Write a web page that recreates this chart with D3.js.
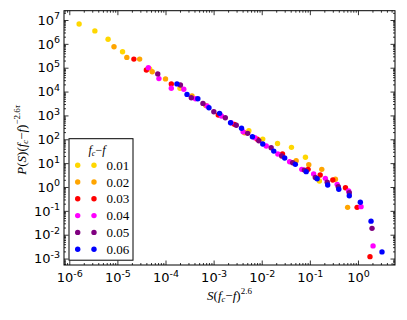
<!DOCTYPE html>
<html>
<head>
<meta charset="utf-8">
<script src="https://cdn.jsdelivr.net/npm/d3@7/dist/d3.min.js"></script>
<style>
  body { margin: 0; background: #fff; }
  .axis path { display: none; }
  .axis line { stroke: #000; stroke-width: 0.8; }
  .tlab { font-family: "DejaVu Sans", sans-serif; font-size: 13px; fill: #000; }
  .math { font-family: "Liberation Serif", "DejaVu Serif", serif; fill: #000; }
</style>
</head>
<body>
<svg id="chart" width="407" height="320"></svg>
<script>
// series labels (f_c - f) and colours
var series = ["0.01", "0.02", "0.03", "0.04", "0.05", "0.06"];
var colors = ["#ffd700", "#ffa500", "#ff0000", "#ff00ff", "#800080", "#0000ff"];

// S (f_c - f)^2.6 and P(S)(f_c - f)^(-2.6 tau)
var s001x = [1.6e-6, 3.4e-6, 6.4e-6, 1.28e-5, 4.7e-5, 2.0e-4, 5.4e-3, 1.05e-2, 2.13e-2, 4.15e-2, 8.1e-2, 0.158];
var s001y = [6.8e6, 3.5e6, 1.55e6, 4.7e5, 8.9e4, 1.37e4, 229, 102, 67, 46, 17.7, 1.78];

var s002x = [8.5e-6, 1.57e-5, 2.9e-5, 5.3e-5, 1.0e-4, 3.55e-4, 6.8e-4, 4.4e-3, 5.2e-2, 9.5e-2, 0.177, 0.34, 0.61];
var s002y = [7.6e5, 2.7e5, 2.3e5, 6.8e4, 3.4e4, 6.5e3, 2.65e3, 188, 12.6, 8.6, 5.5, 2.1, 0.14];

var s003x = [2.2e-5, 4.0e-5, 1.32e-4, 1.25e-3, 2.7e-3, 8.1e-3, 2.7e-2, 9.2e-2, 0.164, 0.30, 0.55, 0.96, 1.78];
var s003y = [2.3e5, 8.0e4, 2.1e4, 1.04e3, 423, 100, 24, 5.5, 3.2, 1.95, 0.93, 0.14, 1.2e-3];

var s004x = [4.4e-5, 7.3e-5, 1.32e-4, 2.4e-4, 4.2e-4, 7.3e-4, 1.45e-3, 2.3e-3, 4.1e-3, 7.2e-3, 1.24e-2, 2.16e-2, 3.8e-2, 6.8e-2, 0.12, 0.21, 0.37, 0.64, 1.16, 2.06];
var s004y = [1.0e5, 3.5e4, 1.37e4, 1.25e4, 5.0e3, 2.5e3, 950, 494, 208, 116, 52, 24, 11.4, 5.5, 3.5, 2.3, 1.29, 0.68, 0.15, 3.4e-3];

var s005x = [6.9e-5, 2.04e-4, 3.44e-4, 6.0e-4, 1.01e-3, 1.75e-3, 2.96e-3, 5.1e-3, 8.7e-3, 1.57e-2, 2.6e-2, 4.4e-2, 7.7e-2, 0.13, 0.23, 0.39, 0.66, 1.96];
var s005y = [5.5e4, 1.88e4, 5.5e3, 3.2e3, 1.43e3, 800, 385, 177, 87, 44, 20, 10.4, 5.1, 2.5, 1.57, 1.02, 0.57, 1.85e-2];

var s006x = [1.73e-4, 2.8e-4, 4.7e-4, 8.0e-4, 1.33e-3, 2.25e-3, 3.8e-3, 6.4e-3, 1.05e-2, 1.78e-2, 3.0e-2, 5.0e-2, 8.4e-2, 0.142, 0.235, 0.40, 0.66, 1.12, 1.87, 3.16];
var s006y = [2.1e4, 7.6e3, 5.0e3, 2.1e3, 1.22e3, 494, 288, 128, 63, 32, 16.4, 8.9, 4.4, 2.2, 1.21, 0.80, 0.43, 0.23, 3.7e-2, 1.9e-3];

var xs = [s001x, s002x, s003x, s004x, s005x, s006x];
var ys = [s001y, s002y, s003y, s004y, s005y, s006y];

var xMajor = [1e-6, 1e-5, 1e-4, 1e-3, 1e-2, 1e-1, 1];
var yMajor = [1e-3, 1e-2, 1e-1, 1, 1e1, 1e2, 1e3, 1e4, 1e5, 1e6, 1e7];

var svg = d3.select("#chart"),
    margin = {top: 10.7, right: 12, bottom: 55, left: 64},
    width = 407 - margin.left - margin.right,
    height = 320 - margin.top - margin.bottom;

var x = d3.scaleLog().domain([Math.pow(10, -6.11), Math.pow(10, 0.77)]).range([0, width]),
    y = d3.scaleLog().domain([Math.pow(10, -3.27), Math.pow(10, 7.39)]).range([height, 0]);

var g = svg.append("g")
    .attr("transform", "translate(" + margin.left + "," + margin.top + ")");

function minors(scale) {
  var d = scale.domain(), out = [];
  for (var k = -8; k <= 8; k++) {
    for (var m = 2; m <= 9; m++) {
      var v = m * Math.pow(10, k);
      if (v > d[0] && v < d[1]) out.push(v);
    }
  }
  return out;
}

function expOf(d) { return Math.round(Math.log10(d)); }

function superLabel(sel) {
  sel.each(function(d) {
    var t = d3.select(this).text(null).attr("class", "tlab");
    t.append("tspan").text("10");
    t.append("tspan").attr("dy", "-0.55em").attr("font-size", "9.5px").text(expOf(d));
  });
}

// minor ticks on all four sides
g.append("g").attr("class", "axis").attr("transform", "translate(0," + height + ")")
    .call(d3.axisBottom(x).tickValues(minors(x)).tickSize(-2).tickFormat(""));
g.append("g").attr("class", "axis")
    .call(d3.axisTop(x).tickValues(minors(x)).tickSize(-2).tickFormat(""));
g.append("g").attr("class", "axis")
    .call(d3.axisLeft(y).tickValues(minors(y)).tickSize(-2).tickFormat(""));
g.append("g").attr("class", "axis").attr("transform", "translate(" + width + ",0)")
    .call(d3.axisRight(y).tickValues(minors(y)).tickSize(-2).tickFormat(""));

// major ticks
g.append("g").attr("class", "axis").attr("transform", "translate(0," + height + ")")
    .call(d3.axisBottom(x).tickValues(xMajor).tickSize(-4.5).tickPadding(8))
    .selectAll(".tick text").call(superLabel);
g.append("g").attr("class", "axis")
    .call(d3.axisTop(x).tickValues(xMajor).tickSize(-4.5).tickFormat(""));
g.append("g").attr("class", "axis")
    .call(d3.axisLeft(y).tickValues(yMajor).tickSize(-4.5).tickPadding(4))
    .selectAll(".tick text").call(superLabel);
g.append("g").attr("class", "axis").attr("transform", "translate(" + width + ",0)")
    .call(d3.axisRight(y).tickValues(yMajor).tickSize(-4.5).tickFormat(""));

// scatter points
series.forEach(function(s, i) {
  var pts = xs[i].map(function(v, j) { return {x: v, y: ys[i][j]}; });
  g.append("g").selectAll("circle")
    .data(pts)
    .enter()
    .append("circle")
    .attr("cx", function(d) { return x(d.x); })
    .attr("cy", function(d) { return y(d.y); })
    .attr("r", 2.7)
    .attr("fill", colors[i]);
});

// frame
g.append("rect")
    .attr("width", width)
    .attr("height", height)
    .attr("fill", "none")
    .attr("stroke", "#000")
    .attr("stroke-width", 1);

// legend
var leg = g.append("g").attr("transform", "translate(5,128)");
leg.append("rect")
    .attr("width", 64)
    .attr("height", 121.5)
    .attr("fill", "#fff")
    .attr("stroke", "#000")
    .attr("stroke-width", 1);
var lt = leg.append("text").attr("class", "math")
    .attr("x", 28).attr("y", 15.5)
    .attr("text-anchor", "middle")
    .style("font-size", "12px");
lt.append("tspan").style("font-style", "italic").text("f");
lt.append("tspan").attr("dy", "2").style("font-size", "8px").style("font-style", "italic").text("c");
lt.append("tspan").attr("dy", "-2").text("−");
lt.append("tspan").style("font-style", "italic").text("f");

series.forEach(function(s, i) {
  var row = leg.append("g").attr("transform", "translate(0," + (26.5 + i * 16.8) + ")");
  row.append("circle").attr("cx", 8.7).attr("cy", 0).attr("r", 2.7).attr("fill", colors[i]);
  row.append("circle").attr("cx", 25).attr("cy", 0).attr("r", 2.7).attr("fill", colors[i]);
  row.append("text").attr("class", "math")
      .attr("x", 37.5).attr("y", 4.5)
      .style("font-size", "13px")
      .text(s);
});

// x axis title
var xt = g.append("text").attr("class", "math")
    .attr("x", width / 2).attr("y", height + 35)
    .attr("text-anchor", "middle")
    .style("font-size", "13px");
xt.append("tspan").style("font-style", "italic").text("S");
xt.append("tspan").text("(");
xt.append("tspan").style("font-style", "italic").text("f");
xt.append("tspan").attr("dy", "2").style("font-size", "8.5px").style("font-style", "italic").text("c");
xt.append("tspan").attr("dy", "-2").text("−");
xt.append("tspan").style("font-style", "italic").text("f");
xt.append("tspan").text(")");
xt.append("tspan").attr("dy", "-6").style("font-size", "9px").text("2.6");

// y axis title
var yt = g.append("text").attr("class", "math")
    .attr("transform", "translate(-38," + (height / 2 + 2) + ") rotate(-90)")
    .attr("text-anchor", "middle")
    .style("font-size", "13px");
yt.append("tspan").style("font-style", "italic").text("P");
yt.append("tspan").text("(");
yt.append("tspan").style("font-style", "italic").text("S");
yt.append("tspan").text(")(");
yt.append("tspan").style("font-style", "italic").text("f");
yt.append("tspan").attr("dy", "2").style("font-size", "8.5px").style("font-style", "italic").text("c");
yt.append("tspan").attr("dy", "-2").text("−");
yt.append("tspan").style("font-style", "italic").text("f");
yt.append("tspan").text(")");
yt.append("tspan").attr("dy", "-6").style("font-size", "9px").text("−2.6");
yt.append("tspan").style("font-size", "9px").style("font-style", "italic").text("τ");
</script>
</body>
</html>
